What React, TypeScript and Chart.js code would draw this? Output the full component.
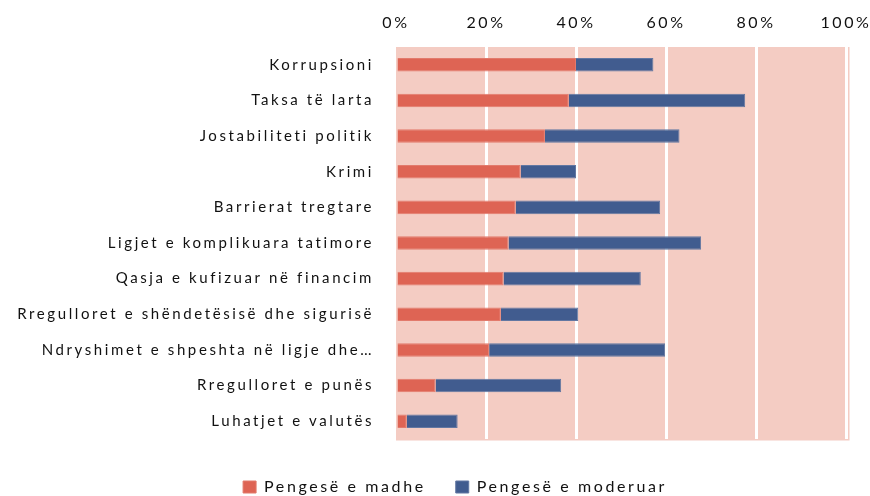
import React, { useEffect, useRef } from "react";
import { Chart, registerables } from "chart.js";

Chart.register(...registerables);

const categories = [
  "Korrupsioni",
  "Taksa të larta",
  "Jostabiliteti politik",
  "Krimi",
  "Barrierat tregtare",
  "Ligjet e komplikuara tatimore",
  "Qasja e kufizuar në financim",
  "Rregulloret e shëndetësisë dhe sigurisë",
  "Ndryshimet e shpeshta në ligje dhe…",
  "Rregulloret e punës",
  "Luhatjet e valutës",
];

const majorObstacle = [40.0, 38.4, 33.1, 27.7, 26.6, 25.0, 23.9, 23.3, 20.7, 8.8, 2.4];
const moderateObstacle = [17.2, 39.2, 29.9, 12.3, 32.1, 42.8, 30.5, 17.2, 39.1, 27.9, 11.3];
const seriesNames = ["Pengesë e madhe", "Pengesë e moderuar"];
const xTickStep = 20;
const xMin = 0;
const xMax = 100;

const FONT = "Lato, 'Open Sans', sans-serif";
const SPACING = "2.6px";

export default function App() {
  const canvasRef = useRef<HTMLCanvasElement | null>(null);

  useEffect(() => {
    const canvas = canvasRef.current;
    if (!canvas) return;

    const spacingPlugin = {
      id: "letterSpacingPlugin",
      beforeLayout(chart: any) {
        chart.ctx.letterSpacing = SPACING;
      },
      afterLayout(chart: any) {
        // centre the legend row under the plot like the original
        if (chart.legend) {
          chart.legend.left = 64;
          chart.legend.right = chart.chartArea.right;
        }
      },
      beforeDraw(chart: any) {
        chart.ctx.letterSpacing = SPACING;
        const { ctx, chartArea } = chart;
        ctx.save();
        ctx.fillStyle = "#F4CCC3";
        ctx.fillRect(chartArea.left, chartArea.top, chartArea.right - chartArea.left + 3.5, chartArea.bottom - chartArea.top + 1.5);
        ctx.restore();
      },
    };

    const chart = new Chart(canvas, {
      type: "bar",
      data: {
        labels: categories,
        datasets: [
          {
            label: seriesNames[0],
            data: majorObstacle,
            backgroundColor: "#DE6454",
            borderColor: "#E27A6C",
            borderWidth: 1,
            barPercentage: 0.38,
            categoryPercentage: 1,
          },
          {
            label: seriesNames[1],
            data: moderateObstacle,
            backgroundColor: "#415C8F",
            borderColor: "#6277A2",
            borderWidth: 1,
            barPercentage: 0.38,
            categoryPercentage: 1,
          },
        ],
      },
      options: {
        indexAxis: "y",
        animation: false,
        responsive: false,
        maintainAspectRatio: false,
        layout: { padding: { left: 0, right: 0, top: 0, bottom: -9 } },
        plugins: {
          legend: {
            position: "bottom",
            labels: {
              boxWidth: 13,
              boxHeight: 12,
              padding: 30,
              color: "#111111",
              font: { family: FONT, size: 16 },
            },
          },
          tooltip: { enabled: false },
        },
        scales: {
          x: {
            type: "linear",
            position: "top",
            stacked: true,
            min: xMin,
            max: xMax,
            ticks: {
              stepSize: xTickStep,
              callback: (v: any) => v + "%",
              color: "#111111",
              font: { family: FONT, size: 16 },
              padding: 15,
            },
            grid: {
              color: (c: any) => (c.tick && c.tick.value === 0 ? "rgba(0,0,0,0)" : "#ffffff"),
              lineWidth: 3,
              drawTicks: false,
            },
            border: { display: false },
            afterFit: (s: any) => {
              s.height = 47;
              s.paddingRight = 24;
              s.paddingLeft = 0;
            },
          },
          gap: {
            type: "linear",
            position: "bottom",
            display: true,
            ticks: { display: false },
            grid: { display: false, drawTicks: false },
            border: { display: false },
            afterFit: (s: any) => {
              s.height = 10;
              s.paddingRight = 0;
              s.paddingLeft = 0;
            },
          },
          y: {
            type: "category",
            stacked: true,
            ticks: {
              color: "#111111",
              font: { family: FONT, size: 15 },
              padding: 22,
            },
            grid: { display: false, drawTicks: false },
            border: { display: false },
            afterFit: (s: any) => {
              s.width = 396;
            },
          },
        },
      },
      plugins: [spacingPlugin],
    });

    return () => chart.destroy();
  }, []);

  return (
    <div style={{ position: "fixed", left: 0, top: 0, width: 870, height: 496, background: "#fff" }}>
      <canvas ref={canvasRef} width={870} height={496} style={{ width: 870, height: 496 }} />
    </div>
  );
}
